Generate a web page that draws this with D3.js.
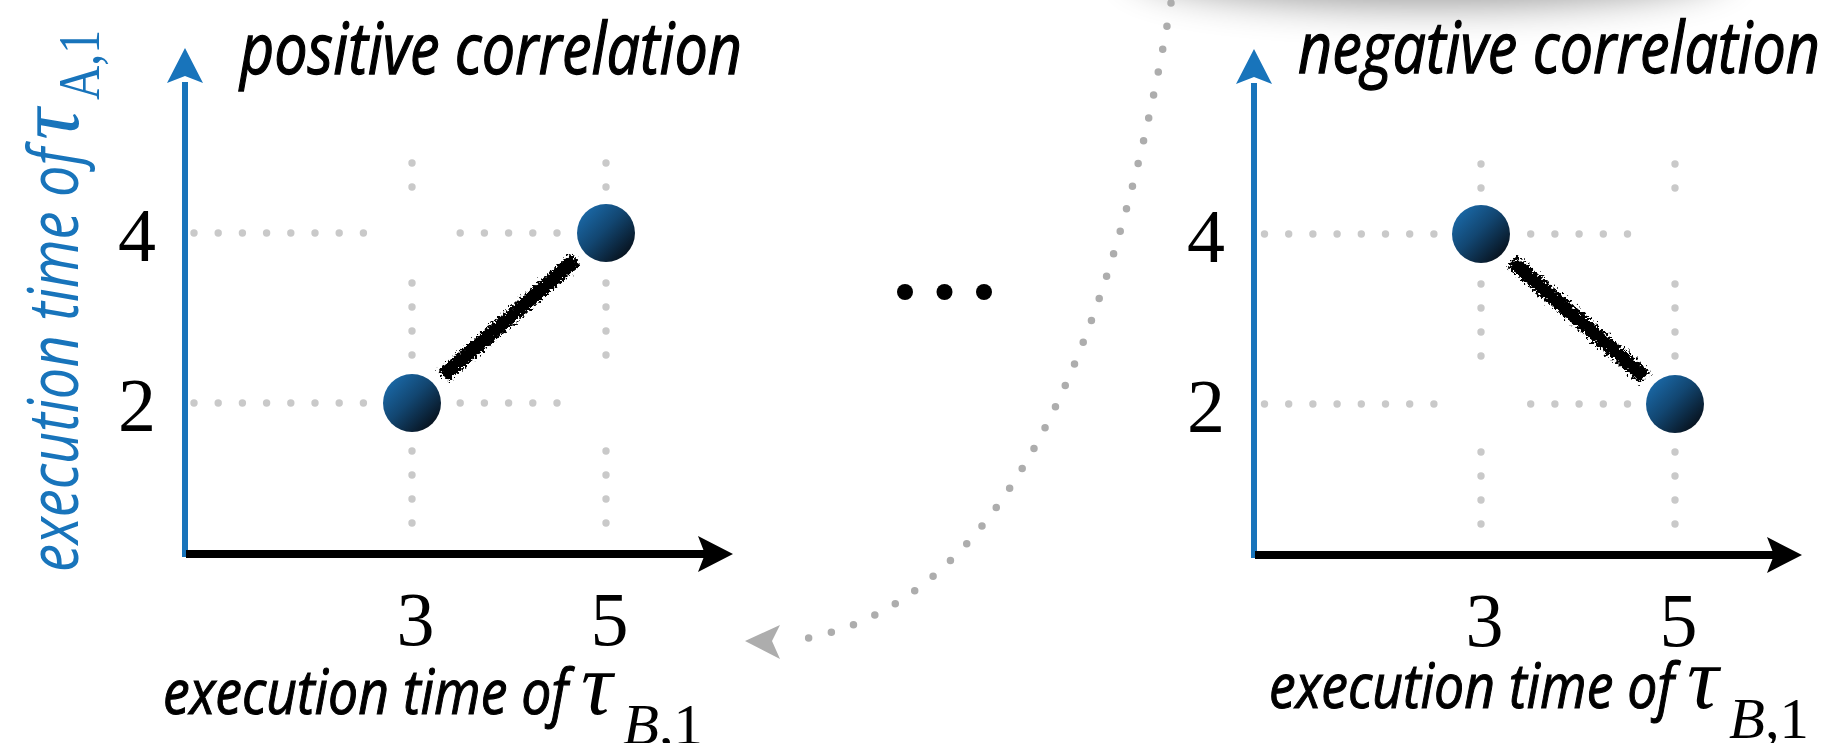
<!DOCTYPE html>
<html><head><meta charset="utf-8">
<script src="https://cdn.jsdelivr.net/npm/d3@7/dist/d3.min.js"></script>
<style>html,body{margin:0;padding:0;background:#fff;overflow:hidden}</style>
</head><body>
<svg id="chart" width="1831" height="743"></svg>
<script>
// ---- data ----
const panelTitles = ["positive correlation", "negative correlation"];
const xTickValues = [3, 5];
const yTickValues = [2, 4];
const positiveX = [3, 5];
const positiveY = [2, 4];
const negativeX = [3, 5];
const negativeY = [4, 2];
const xLabelText = "execution time of";
const xLabelSymbol = "τ";
const xLabelSub = ["B", ",1"];
const yLabelText = "execution time of";
const yLabelSymbol = "τ";
const yLabelSub = "A,1";

// ---- layout (positions / styles) ----
const layout = [
  {ox: 185, oy: 554, titleX: 240, titleY: 74, titleW: 502, xlabX: 163, xlabY: 714, series: [positiveX, positiveY]},
  {ox: 1254, oy: 555, titleX: 1298, titleY: 73, titleW: 522, xlabX: 1269, xlabY: 708, series: [negativeX, negativeY]}
];
const BLUE = "#1874bb";
const sans = "'Open Sans', 'Noto Sans', sans-serif";
const serif = "'Liberation Serif', 'DejaVu Serif', serif";
const greek = "'Liberation Serif', 'DejaVu Serif', serif";

const svg = d3.select("#chart");
const defs = svg.append("defs");

const grad = defs.append("linearGradient").attr("id", "ball")
  .attr("x1", 0.12).attr("y1", 0.12).attr("x2", 0.88).attr("y2", 0.88);
grad.append("stop").attr("offset", 0).attr("stop-color", "#1a68a6");
grad.append("stop").attr("offset", 0.45).attr("stop-color", "#124671");
grad.append("stop").attr("offset", 1).attr("stop-color", "#07111c");

// charcoal-like rough stroke
const rough = defs.append("filter").attr("id", "rough")
  .attr("x", "-20%").attr("y", "-20%").attr("width", "140%").attr("height", "140%");
rough.append("feTurbulence").attr("type", "fractalNoise").attr("baseFrequency", 0.4)
  .attr("numOctaves", 3).attr("seed", 7).attr("result", "noise");
rough.append("feDisplacementMap").attr("in", "SourceGraphic").attr("in2", "noise")
  .attr("scale", 12).attr("xChannelSelector", "R").attr("yChannelSelector", "G");

const blur = defs.append("filter").attr("id", "blur")
  .attr("x", "-50%").attr("y", "-300%").attr("width", "200%").attr("height", "700%");
blur.append("feGaussianBlur").attr("stdDeviation", 20);

// top shadow
svg.append("ellipse").attr("cx", 1430).attr("cy", -36).attr("rx", 300).attr("ry", 40)
  .attr("fill", "#000").attr("opacity", 0.42).attr("filter", "url(#blur)");

// scales (relative to each panel origin)
const x = d3.scaleLinear().domain([3, 5]).range([227, 421]);
const y = d3.scaleLinear().domain([2, 4]).range([-151, -321]);

layout.forEach((L, i) => {
  const g = svg.append("g").attr("transform", `translate(${L.ox},${L.oy})`);

  // dotted grid lattice, broken near crossings
  const gridG = g.append("g").attr("fill", "#c9c9c9");
  xTickValues.forEach(v => {
    const xs = x(v);
    const ys = d3.range(y(4) - 70, -30, 24).filter(yy => yTickValues.every(t => Math.abs(yy - y(t)) > 36));
    gridG.selectAll(null).data(ys).join("circle").attr("cx", xs).attr("cy", d => d).attr("r", 3.7);
  });
  yTickValues.forEach(v => {
    const yy = y(v);
    const xs = d3.range(9 + (i ? 1.5 : 0), x(5) + 1, 24.2).filter(xx => xTickValues.every(t => Math.abs(xx - x(t)) > 36));
    gridG.selectAll(null).data(xs).join("circle").attr("cx", d => d).attr("cy", yy).attr("r", 3.7);
  });

  // y axis (blue) with arrow
  g.append("line").attr("x1", 0).attr("x2", 0).attr("y1", 3).attr("y2", -472)
    .attr("stroke", BLUE).attr("stroke-width", 6);
  g.append("path").attr("d", "M0,-506 L18,-471 L0,-478 L-18,-471 Z").attr("fill", BLUE);

  // x axis (black) with arrow
  g.append("line").attr("x1", 1).attr("x2", 520).attr("y1", 0).attr("y2", 0)
    .attr("stroke", "#000").attr("stroke-width", 8);
  g.append("path").attr("d", "M548,0 L513,-18 L520,0 L513,18 Z").attr("fill", "#000");

  // tick labels via d3 axes
  const ax = g.append("g").call(d3.axisBottom(x).tickValues(xTickValues).tickFormat(d3.format("d")).tickSize(0).tickPadding(37));
  ax.select(".domain").remove();
  ax.selectAll("text").attr("font-family", serif).attr("font-size", 76).attr("fill", "#000").attr("dx", 3);
  const ay = g.append("g").call(d3.axisLeft(y).tickValues(yTickValues).tickFormat(d3.format("d")).tickSize(0).tickPadding(29));
  ay.select(".domain").remove();
  ay.selectAll("text").attr("font-family", serif).attr("font-size", 76).attr("fill", "#000").attr("dy", "0.36em");

  // correlation stroke
  const [sx, sy] = L.series;
  const p0 = [x(sx[0]), y(sy[0])], p1 = [x(sx[1]), y(sy[1])];
  const a = d3.interpolate(p0, p1)(0.16), b = d3.interpolate(p0, p1)(0.845);
  g.append("path").attr("d", d3.line()([a, b])).attr("stroke", "#000")
    .attr("stroke-width", 15).attr("stroke-linecap", "butt").attr("fill", "none").attr("filter", "url(#rough)");

  // points
  g.selectAll(".pt").data(sx.map((v, k) => [v, sy[k]])).join("circle")
    .attr("cx", d => x(d[0])).attr("cy", d => y(d[1])).attr("r", 29).attr("fill", "url(#ball)");

  // title
  svg.append("text").attr("x", L.titleX).attr("y", L.titleY)
    .attr("font-family", sans).attr("font-style", "italic").attr("font-size", 72)
    .attr("stroke", "#000").attr("stroke-width", 1.3)
    .attr("textLength", L.titleW).attr("lengthAdjust", "spacingAndGlyphs").text(panelTitles[i]);

  // x label
  svg.append("text").attr("x", L.xlabX).attr("y", L.xlabY)
    .attr("font-family", sans).attr("font-style", "italic").attr("font-size", 62)
    .attr("stroke", "#000").attr("stroke-width", 1.1)
    .attr("textLength", 405).attr("lengthAdjust", "spacingAndGlyphs").text(xLabelText);
  svg.append("text").attr("x", L.xlabX + 418).attr("y", L.xlabY)
    .attr("font-family", greek).attr("font-style", "italic").attr("font-size", 88).text(xLabelSymbol);
  const sub = svg.append("text").attr("x", L.xlabX + 460).attr("y", L.xlabY + 30)
    .attr("font-family", serif).attr("font-size", 58)
    .attr("textLength", 80).attr("lengthAdjust", "spacingAndGlyphs");
  sub.append("tspan").attr("font-style", "italic").text(xLabelSub[0]);
  sub.append("tspan").text(xLabelSub[1]);
});

// y label (left panel only), rotated
const yl = svg.append("g").attr("transform", "translate(78,572) rotate(-90)").attr("fill", BLUE);
yl.append("text").attr("x", 0).attr("y", 0)
  .attr("font-family", sans).attr("font-style", "italic").attr("font-size", 70)
  .attr("textLength", 424).attr("lengthAdjust", "spacingAndGlyphs").text(yLabelText);
yl.append("text").attr("x", 432).attr("y", 0)
  .attr("font-family", greek).attr("font-style", "italic").attr("font-size", 88).text(yLabelSymbol);
yl.append("text").attr("x", 472).attr("y", 21)
  .attr("font-family", serif).attr("font-size", 60)
  .attr("textLength", 70).attr("lengthAdjust", "spacingAndGlyphs").text(yLabelSub);

// ellipsis between panels
svg.append("g").selectAll("circle").data(d3.range(3)).join("circle")
  .attr("cx", d => 905 + d * 39.5).attr("cy", 292).attr("r", 8).attr("fill", "#000");

// curved dotted arrow
const curve = d3.path();
curve.moveTo(1171, 3);
curve.bezierCurveTo(1106, 383, 988, 615, 790, 641);
svg.append("path").attr("d", curve.toString()).attr("fill", "none")
  .attr("stroke", "#adadad").attr("stroke-width", 7.5).attr("stroke-linecap", "round")
  .attr("stroke-dasharray", "0 23.4");
svg.append("path").attr("d", "M745,641 L780,625 L772,641 L780,659 Z").attr("fill", "#adadad");
</script>
</body></html>
